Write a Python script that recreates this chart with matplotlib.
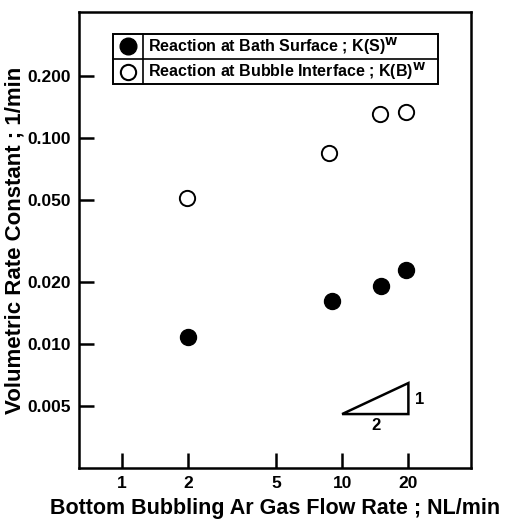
import matplotlib
matplotlib.use('Agg')
import matplotlib.pyplot as plt
from matplotlib.patches import Rectangle, Polygon
from matplotlib.ticker import FixedLocator, FixedFormatter, NullLocator

plt.rcParams['font.family'] = ['Liberation Sans', 'DejaVu Sans']
plt.rcParams['font.weight'] = 'bold'
plt.rcParams['mathtext.default'] = 'bf'
plt.rcParams['xtick.direction'] = 'in'
plt.rcParams['ytick.direction'] = 'in'
plt.rcParams['xtick.major.size'] = 11
plt.rcParams['ytick.major.size'] = 11
plt.rcParams['xtick.major.width'] = 1.8
plt.rcParams['ytick.major.width'] = 1.8

# data
flow_surface = [2.0, 9.0, 15.0, 19.5]
k_surface = [0.0108, 0.0162, 0.0191, 0.0229]
flow_bubble = [1.97, 8.7, 14.9, 19.5]
k_bubble = [0.051, 0.0846, 0.131, 0.134]

x_ticks = [1, 2, 5, 10, 20]
x_labels = ['1', '2', '5', '10', '20']
y_ticks = [0.005, 0.010, 0.020, 0.050, 0.100, 0.200]
y_labels = ['0.005', '0.010', '0.020', '0.050', '0.100', '0.200']

# slope 1/2 guide triangle
tri_x = [10, 20, 20]
tri_y = [0.00457, 0.00457 * 2 ** 0.5, 0.00457]

fig = plt.figure(figsize=(5.1, 5.22), dpi=100)
ax = fig.add_axes([0.155, 0.1034, 0.769, 0.8736])
ax.set_xscale('log')
ax.set_yscale('log')
ax.set_xlim(0.638, 38.6)
ax.set_ylim(0.0025, 0.409)
ax.xaxis.set_major_locator(FixedLocator(x_ticks))
ax.xaxis.set_major_formatter(FixedFormatter(x_labels))
ax.yaxis.set_major_locator(FixedLocator(y_ticks))
ax.yaxis.set_major_formatter(FixedFormatter(y_labels))
ax.xaxis.set_minor_locator(NullLocator())
ax.yaxis.set_minor_locator(NullLocator())
ax.tick_params(which='major', labelsize=12.5, pad=6)
for s in ax.spines.values():
    s.set_linewidth(1.8)

ax.plot(flow_surface, k_surface, 'o', color='black', ms=11.5, zorder=3)
ax.plot(flow_bubble, k_bubble, 'o', mfc='white', mec='black', mew=1.4, ms=11, zorder=3)

ax.add_patch(Polygon(list(zip(tri_x, tri_y)), closed=True, fill=False,
                     edgecolor='black', lw=1.8))
ax.text(21.5, 0.0054, '1', fontsize=12, ha='left', va='center')
ax.text(14.3, 0.0040, '2', fontsize=12, ha='center', va='center')

# boxed legend
lx0, lx1, ly0, ly1, lym, lxd = 0.087, 0.916, 0.842, 0.952, 0.897, 0.163
ax.add_patch(Rectangle((lx0, ly0), lx1 - lx0, ly1 - ly0, transform=ax.transAxes,
                       fill=False, edgecolor='black', lw=1.4))
ax.plot([lx0, lx1], [lym, lym], color='black', lw=1.2, transform=ax.transAxes)
ax.plot([lxd, lxd], [ly0, ly1], color='black', lw=1.2, transform=ax.transAxes)
mx = (lx0 + lxd) / 2
ax.plot([mx], [(lym + ly1) / 2], 'o', color='black', ms=12, transform=ax.transAxes)
ax.plot([mx], [(ly0 + lym) / 2], 'o', mfc='white', mec='black', mew=1.5, ms=11,
        transform=ax.transAxes)
ax.text(lxd + 0.012, (lym + ly1) / 2, r'Reaction at Bath Surface ; K(S)$^{W}$',
        fontsize=11.5, va='center', transform=ax.transAxes)
ax.text(lxd + 0.012, (ly0 + lym) / 2, r'Reaction at Bubble Interface ; K(B)$^{W}$',
        fontsize=11.5, va='center', transform=ax.transAxes)

ax.set_xlabel('Bottom Bubbling Ar Gas Flow Rate ; NL/min', fontsize=15.5,
              fontweight='heavy', labelpad=5)
ax.set_ylabel('Volumetric Rate Constant ; 1/min', fontsize=16,
              fontweight='heavy', labelpad=1)

fig.savefig('out.png', dpi=100)
